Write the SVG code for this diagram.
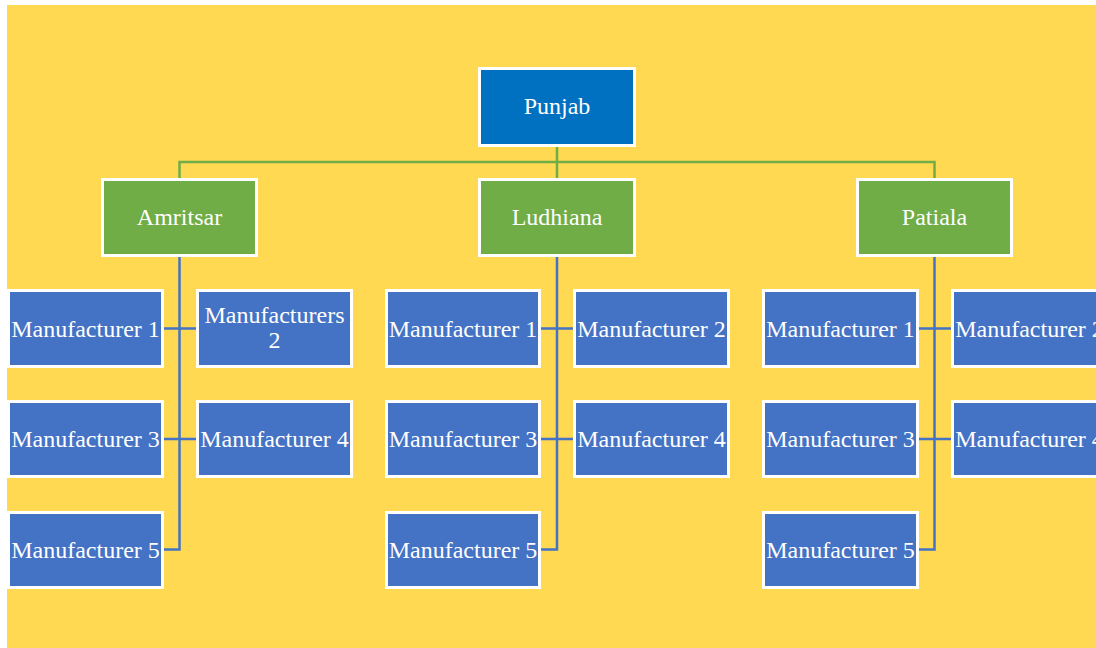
<svg xmlns="http://www.w3.org/2000/svg" width="1096" height="648" viewBox="0 0 1096 648">
<style>
.bx{stroke:#FFFFFF;stroke-width:3}
.top{fill:#0070C0}
.mid{fill:#70AD47}
.leaf{fill:#4472C4}
text{font-family:"Liberation Serif","Times New Roman",serif;font-size:24px;fill:#FFFFFF;text-anchor:middle}
.cg{fill:none;stroke:#70AD47;stroke-width:2.5}
.cb{fill:none;stroke:#4472C4;stroke-width:2.5}
</style>
<rect x="7" y="5" width="1089" height="643" fill="#FFD952"/>
<g id="connectors">
<path class="cg" d="M557 147V162M179.5 178V162H934.5V178M557 162V178"/>
<path class="cb" d="M179.5 257V549.5H164M164 328.5H196M164 439H196"/>
<path class="cb" d="M557 257V549.5H541M541 328.5H573M541 439H573"/>
<path class="cb" d="M934.5 257V549.5H919M919 328.5H951M919 439H951"/>
</g>
<g id="punjab"><rect class="bx top" x="479.5" y="68.5" width="155" height="77"/><text x="557" y="114">Punjab</text></g>
<g id="amritsar"><rect class="bx mid" x="102.5" y="179.5" width="154" height="76"/><text x="179.5" y="225">Amritsar</text></g>
<g id="ludhiana"><rect class="bx mid" x="479.5" y="179.5" width="155" height="76"/><text x="557" y="225">Ludhiana</text></g>
<g id="patiala"><rect class="bx mid" x="857.5" y="179.5" width="154" height="76"/><text x="934.5" y="225">Patiala</text></g>

<g id="a-m1"><rect class="bx leaf" x="8.5" y="290.5" width="154" height="76"/><text x="85.5" y="336.5">Manufacturer 1</text></g>
<g id="a-m2"><rect class="bx leaf" x="197.5" y="290.5" width="154" height="76"/><text x="274.5" y="323">Manufacturers</text><text x="274.5" y="348">2</text></g>
<g id="a-m3"><rect class="bx leaf" x="8.5" y="401.5" width="154" height="75"/><text x="85.5" y="447">Manufacturer 3</text></g>
<g id="a-m4"><rect class="bx leaf" x="197.5" y="401.5" width="154" height="75"/><text x="274.5" y="447">Manufacturer 4</text></g>
<g id="a-m5"><rect class="bx leaf" x="8.5" y="512.5" width="154" height="75"/><text x="85.5" y="557.5">Manufacturer 5</text></g>

<g id="l-m1"><rect class="bx leaf" x="386.5" y="290.5" width="153" height="76"/><text x="463" y="336.5">Manufacturer 1</text></g>
<g id="l-m2"><rect class="bx leaf" x="574.5" y="290.5" width="154" height="76"/><text x="651.5" y="336.5">Manufacturer 2</text></g>
<g id="l-m3"><rect class="bx leaf" x="386.5" y="401.5" width="153" height="75"/><text x="463" y="447">Manufacturer 3</text></g>
<g id="l-m4"><rect class="bx leaf" x="574.5" y="401.5" width="154" height="75"/><text x="651.5" y="447">Manufacturer 4</text></g>
<g id="l-m5"><rect class="bx leaf" x="386.5" y="512.5" width="153" height="75"/><text x="463" y="557.5">Manufacturer 5</text></g>

<g id="p-m1"><rect class="bx leaf" x="763.5" y="290.5" width="154" height="76"/><text x="840.5" y="336.5">Manufacturer 1</text></g>
<g id="p-m2"><rect class="bx leaf" x="952.5" y="290.5" width="154" height="76"/><text x="1029.5" y="336.5">Manufacturer 2</text></g>
<g id="p-m3"><rect class="bx leaf" x="763.5" y="401.5" width="154" height="75"/><text x="840.5" y="447">Manufacturer 3</text></g>
<g id="p-m4"><rect class="bx leaf" x="952.5" y="401.5" width="154" height="75"/><text x="1029.5" y="447">Manufacturer 4</text></g>
<g id="p-m5"><rect class="bx leaf" x="763.5" y="512.5" width="154" height="75"/><text x="840.5" y="557.5">Manufacturer 5</text></g>
</svg>
